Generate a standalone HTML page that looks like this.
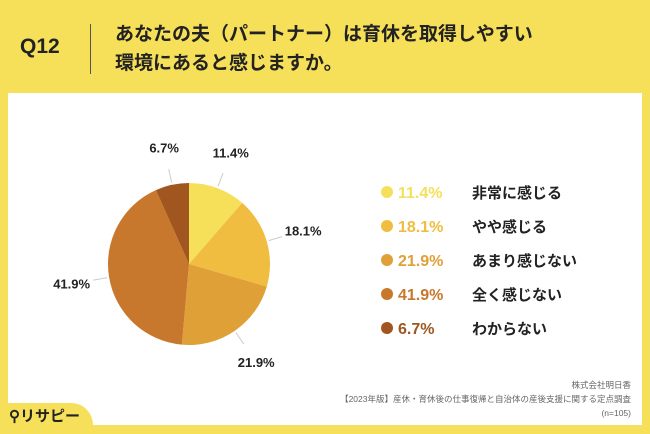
<!DOCTYPE html>
<html><head><meta charset="utf-8"><style>
body{margin:0;width:650px;height:434px;background:#F6E05A;font-family:"Liberation Sans","Noto Sans CJK JP",sans-serif;position:relative;overflow:hidden}
.a{position:absolute}
</style></head><body>
<div class="a" style="left:20px;top:35px;font-size:21px;font-weight:bold;color:#222">Q12</div>
<div class="a" style="left:90px;top:24px;width:1px;height:50px;background:#555"></div>
<div class="a" style="left:115px;top:20px;font-size:19px;font-weight:bold;line-height:29px;color:#222">あなたの夫（パートナー）は育休を取得しやすい<br>環境にあると感じますか。</div>
<div class="a" style="left:8px;top:93px;width:634px;height:332px;background:#fff"></div>
<div class="a" style="left:0;top:403px;width:93px;height:31px;background:#F6E05A;border-top-right-radius:22px"></div>
<div class="a" style="left:9px;top:405px;font-size:15px;font-weight:bold;color:#222">⚲リサピー</div>
<div class="a" style="right:19px;top:378px;font-size:8.5px;line-height:14px;color:#666;text-align:right">株式会社明日香<br>【2023年版】産休・育休後の仕事復帰と自治体の産後支援に関する定点調査<br>(n=105)</div>
<svg class="a" style="left:0;top:0" width="650" height="434" id="chart"></svg>
<script>
const categories=["非常に感じる","やや感じる","あまり感じない","全く感じない","わからない"];
const values=[11.4,18.1,21.9,41.9,6.7];
const labels=["11.4%","18.1%","21.9%","41.9%","6.7%"];
const colors=["#F6E05A","#F0BD40","#E0A038","#C8782C","#A0561E"];
const NS="http://www.w3.org/2000/svg",svg=document.getElementById('chart');
const cx=189,cy=264,r=81;
const total=values.reduce((a,b)=>a+b,0);
function pt(a,rr){return [cx+rr*Math.sin(a),cy-rr*Math.cos(a)];}
let acc=0;
values.forEach((v,i)=>{
 const a0=acc/total*2*Math.PI;acc+=v;const a1=acc/total*2*Math.PI;
 const p0=pt(a0,r),p1=pt(a1,r);
 const p=document.createElementNS(NS,'path');
 p.setAttribute('d',`M${cx},${cy}L${p0[0]},${p0[1]}A${r},${r} 0 ${a1-a0>Math.PI?1:0} 1 ${p1[0]},${p1[1]}Z`);
 p.setAttribute('fill',colors[i]);
 
 
 svg.appendChild(p);
 const m=(a0+a1)/2;const l0=pt(m,r+2),l1=pt(m,r+16);
 const ln=document.createElementNS(NS,'line');
 ln.setAttribute('x1',l0[0]);ln.setAttribute('y1',l0[1]);ln.setAttribute('x2',l1[0]);ln.setAttribute('y2',l1[1]);
 ln.setAttribute('stroke','#ccc');
 
 
 svg.appendChild(ln);
 const tp=pt(m,r+38);
 const t=document.createElementNS(NS,'text');
 t.setAttribute('x',tp[0]);t.setAttribute('y',tp[1]+5);t.setAttribute('text-anchor','middle');
 t.setAttribute('font-size','13');t.setAttribute('font-weight','bold');t.setAttribute('fill','#222');
 t.textContent=labels[i];
 
 
 svg.appendChild(t);
 const y=192+i*34;
 const c=document.createElementNS(NS,'circle');
 c.setAttribute('cx',387);c.setAttribute('cy',y);c.setAttribute('r',6);c.setAttribute('fill',colors[i]);
 
 
 svg.appendChild(c);
 const pv=document.createElementNS(NS,'text');
 pv.setAttribute('x',398);pv.setAttribute('y',y+6);pv.setAttribute('font-size','16');pv.setAttribute('font-weight','bold');pv.setAttribute('fill',colors[i]);
 pv.textContent=labels[i];
 
 
 svg.appendChild(pv);
 const lt=document.createElementNS(NS,'text');
 lt.setAttribute('x',472);lt.setAttribute('y',y+6);lt.setAttribute('font-size','15');lt.setAttribute('font-weight','bold');lt.setAttribute('fill','#222');
 lt.textContent=categories[i];
 
 
 svg.appendChild(lt);
});
</script>
</body></html>
